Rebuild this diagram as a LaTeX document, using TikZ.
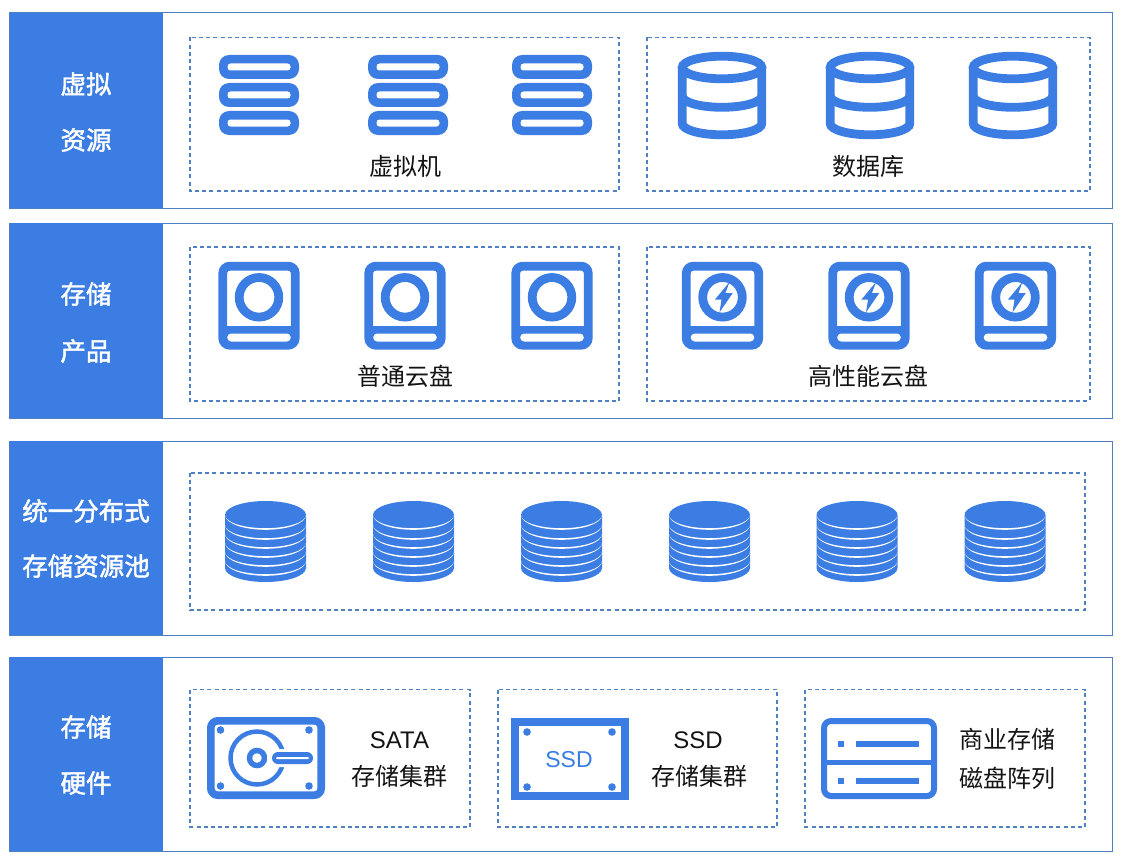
\documentclass[tikz,border=0pt]{standalone}
\usepackage{fontspec}
\setmainfont{Liberation Sans}
\newfontfamily\cjk{Noto Sans CJK SC}
\definecolor{mainblue}{HTML}{3B7DE3}
\definecolor{edgeblue}{HTML}{4F80C2}
\definecolor{inktext}{HTML}{141414}
\newcommand{\heavier}[1]{\special{pdf:code q 2 Tr 0.45 w 1 1 1 RG}#1\special{pdf:code 0 Tr Q}}
\tikzset{
  panel/.style={draw=edgeblue,line width=1pt,fill=white},
  sidebar/.style={fill=mainblue},
  dashbox/.style={draw=edgeblue,line width=1.8pt,dash pattern=on 4pt off 3.2pt},
  sidetext/.style={text=white,font=\fontsize{25.5}{26}\selectfont\cjk,inner sep=0pt},
  bodytext/.style={text=inktext,font=\fontsize{24}{24}\selectfont\cjk,inner sep=0pt},
  latintext/.style={text=inktext,font=\fontsize{24}{24}\selectfont,inner sep=0pt},
  iconline/.style={draw=mainblue,line width=8.8pt},
  caseline/.style={draw=mainblue,line width=7.6pt},
}
% server icon: centre x
\newcommand{\servericon}[1]{%
  \foreach \yy in {67,95,123}{
    \fill[mainblue,rounded corners=10pt] (#1-40,\yy-12) rectangle (#1+40,\yy+12);
    \fill[white,rounded corners=3pt] (#1-31.5,\yy-3.5) rectangle (#1+31.5,\yy+3.5);
  }}
% database icon: centre x
\newcommand{\dbicon}[1]{%
  \begin{scope}[shift={(#1,0)}]
    \draw[iconline] (0,67.5) ellipse [x radius=39.8,y radius=11.3];
    \draw[iconline] (-39.8,67.5) -- (-39.8,123.5) arc[start angle=180,end angle=0,x radius=39.8,y radius=11.3] -- (39.8,67.5);
    \draw[iconline] (-39.8,96) arc[start angle=180,end angle=0,x radius=39.8,y radius=11.3];
  \end{scope}}
% disk body: centre x
\newcommand{\diskbody}[1]{%
  \draw[iconline,rounded corners=7pt] (#1-36.2,266.2) rectangle (#1+36.2,345.2);
  \fill[mainblue] (#1-36.2,325.7) rectangle (#1+36.2,345);
  \fill[white,rounded corners=4pt] (#1-31.8,333.5) rectangle (#1+31.8,341.5);
  \draw[iconline] (#1,297.3) circle (19.8);}
\newcommand{\boltdisk}[1]{%
  \diskbody{#1}
  \fill[mainblue] (#1+7,282) -- (#1-7.7,299.7) -- (#1-1,299.7) -- (#1-3,312.3) -- (#1+10.3,293) -- (#1+3,293) -- cycle;}
% stack icon: centre x
\newcommand{\stackicon}[1]{%
  \begin{scope}[shift={(#1,0)}]
    \fill[mainblue] (-40.5,515) arc[start angle=180,end angle=360,x radius=40.5,y radius=14] -- (40.5,568)
      arc[start angle=0,end angle=180,x radius=40.5,y radius=14] -- cycle;
    \foreach \yy in {515,525,534,543,552,561}{
      \fill[white] (-40.5,\yy) arc[start angle=180,end angle=0,x radius=40.5,y radius=14.8]
        arc[start angle=0,end angle=180,x radius=40.5,y radius=13.2] -- cycle;
    }
  \end{scope}}
\begin{document}
\begin{tikzpicture}[x=1pt,y=-1pt]
\useasboundingbox (0,0) rectangle (1123,864);
\fill[white] (0,0) rectangle (1123,864);
% panels
\foreach \ya/\yb in {13/208,223/418,441/635,657/851}{
  \draw[panel] (9.5,\ya) rectangle (1112.5,\yb);
  \fill[sidebar] (9.5,\ya) rectangle (163,\yb);
}
% dashed frames
\draw[dashbox] (190,37.5) rectangle (619,191);
\draw[dashbox] (647,37.5) rectangle (1090,191);
\draw[dashbox] (190,247) rectangle (619,401);
\draw[dashbox] (647,247) rectangle (1090,401);
\draw[dashbox] (190,473) rectangle (1085,610);
\draw[dashbox] (190,689.5) rectangle (470,827);
\draw[dashbox] (498,689.5) rectangle (777,827);
\draw[dashbox] (805,689.5) rectangle (1085,827);
% side labels
\node[sidetext] (s1a) at (86,84) {\heavier{虚拟}};
\node[sidetext] (s1b) at (86,140) {\heavier{资源}};
\node[sidetext] (s2a) at (86,294) {\heavier{存储}};
\node[sidetext] (s2b) at (86,351) {\heavier{产品}};
\node[sidetext] (s3a) at (86,511) {\heavier{统一分布式}};
\node[sidetext] (s3b) at (86,566) {\heavier{存储资源池}};
\node[sidetext] (s4a) at (86,727) {\heavier{存储}};
\node[sidetext] (s4b) at (86,783) {\heavier{硬件}};
% icons row 1
\servericon{259}\servericon{408}\servericon{552}
\dbicon{722}\dbicon{870}\dbicon{1013}
% icons row 2
\diskbody{259}\diskbody{405}\diskbody{552}
\boltdisk{722.5}\boltdisk{869}\boltdisk{1015.5}
% row 3
\foreach \xx in {265.5,413.5,561.5,709.5,857,1005}{\stackicon{\xx}}
% HDD
\draw[caseline,rounded corners=7pt] (210.8,720.8) rectangle (321.2,795.2);
\foreach \px/\py in {220.5/730,309/730,220.5/786,309/786}{\fill[mainblue] (\px,\py) circle (3.8);}
\draw[mainblue,line width=4.5pt] (257,758) circle (26.5);
\draw[mainblue,line width=5.5pt] (257,758) circle (7.5);
\fill[white,rounded corners=7pt] (267,749) rectangle (317,767);
\fill[mainblue,rounded corners=6pt] (272,752) rectangle (313,764);
\fill[white,rounded corners=1pt] (276,757) rectangle (309,759);
% SSD
\draw[caseline] (514.8,721.8) rectangle (625.2,796.2);
\foreach \px/\py in {527/732,612/732,527/787,612/787}{\fill[mainblue] (\px,\py) circle (3.8);}
\node[text=mainblue,font=\fontsize{23}{23}\selectfont,inner sep=0pt] (ssdmark) at (569,760) {SSD};
% array
\draw[mainblue,line width=6pt,rounded corners=7pt] (824,721) rectangle (934,796);
\fill[mainblue] (821,759.5) rectangle (937,764.5);
\foreach \yy in {744,781}{
  \fill[mainblue] (838,\yy-2.8) rectangle (843.5,\yy+2.8);
  \fill[mainblue] (856,\yy-2.8) rectangle (919,\yy+2.8);
}
% body text
\node[bodytext] (t1) at (405,166) {虚拟机};
\node[bodytext] (t2) at (868,166) {数据库};
\node[bodytext] (t3) at (405,376) {普通云盘};
\node[bodytext] (t4) at (868,376) {高性能云盘};
\node[latintext] (t5) at (399.5,740) {SATA};
\node[bodytext] (t6) at (399,776) {存储集群};
\node[latintext] (t7) at (698,740) {SSD};
\node[bodytext] (t8) at (699,776) {存储集群};
\node[bodytext] (t9) at (1007,739) {商业存储};
\node[bodytext] (t10) at (1007,778) {磁盘阵列};
\end{tikzpicture}
\end{document}
